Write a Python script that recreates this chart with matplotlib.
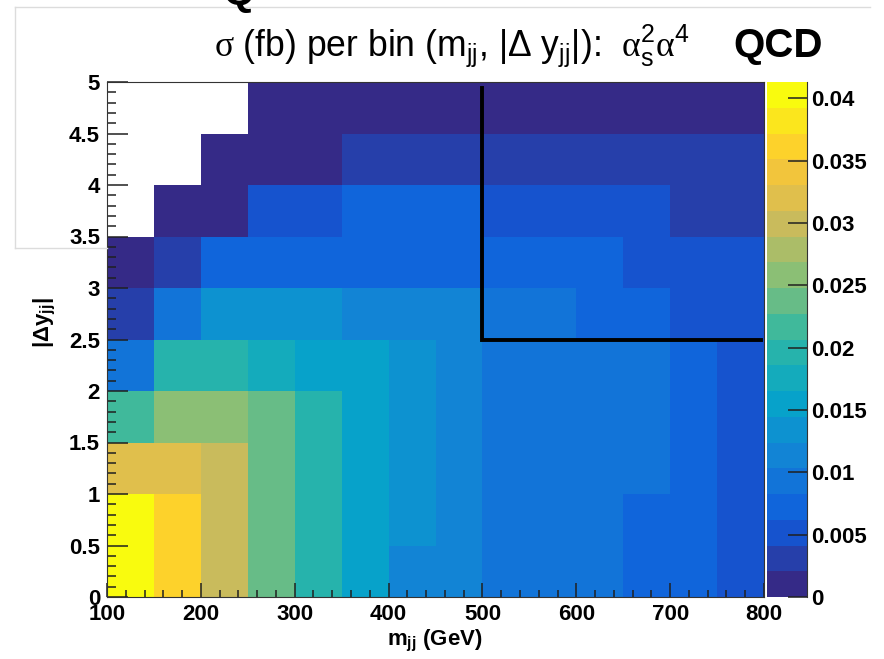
#!/usr/bin/env python3

import numpy as np
import matplotlib
matplotlib.use("Agg")
from matplotlib import pyplot as plt
from matplotlib.colors import LinearSegmentedColormap, ListedColormap, BoundaryNorm
from matplotlib.ticker import MultipleLocator
from matplotlib.lines import Line2D

plt.rcParams["font.family"] = ["Liberation Sans", "DejaVu Sans"]
plt.rcParams["mathtext.fontset"] = "custom"
plt.rcParams["mathtext.rm"] = "Liberation Sans"
plt.rcParams["mathtext.bf"] = "Liberation Sans:bold"
plt.rcParams["mathtext.sf"] = "Liberation Serif"
plt.rcParams["mathtext.it"] = "Liberation Sans:italic"

# bin edges
mjj_edges = [100, 150, 200, 250, 300, 350, 400, 450, 500, 550, 600, 650, 700, 750, 800]
dy_edges = [0.0, 0.5, 1.0, 1.5, 2.0, 2.5, 3.0, 3.5, 4.0, 4.5, 5.0]

# sigma (fb) per bin, one row per |dy| bin starting at 0-0.5; nan = empty bin
nan = np.nan
sigma_fb = [
    [0.0413, 0.0362, 0.0301, 0.0239, 0.0197, 0.0156, 0.0115, 0.0113, 0.0094, 0.0092, 0.0090, 0.0073, 0.0071, 0.0052],
    [0.0405, 0.0364, 0.0299, 0.0240, 0.0198, 0.0157, 0.0135, 0.0116, 0.0095, 0.0093, 0.0091, 0.0074, 0.0072, 0.0053],
    [0.0322, 0.0324, 0.0297, 0.0236, 0.0195, 0.0154, 0.0133, 0.0114, 0.0094, 0.0092, 0.0090, 0.0089, 0.0072, 0.0051],
    [0.0215, 0.0262, 0.0259, 0.0233, 0.0194, 0.0153, 0.0132, 0.0112, 0.0093, 0.0091, 0.0089, 0.0088, 0.0071, 0.0050],
    [0.0092, 0.0198, 0.0195, 0.0175, 0.0156, 0.0152, 0.0131, 0.0111, 0.0093, 0.0090, 0.0088, 0.0087, 0.0070, 0.0049],
    [0.0032, 0.0093, 0.0128, 0.0130, 0.0127, 0.0113, 0.0110, 0.0109, 0.0091, 0.0086, 0.0070, 0.0068, 0.0048, 0.0046],
    [0.0011, 0.0030, 0.0074, 0.0075, 0.0073, 0.0072, 0.0071, 0.0070, 0.0069, 0.0066, 0.0064, 0.0047, 0.0045, 0.0043],
    [nan,    0.0012, 0.0013, 0.0050, 0.0049, 0.0068, 0.0067, 0.0065, 0.0047, 0.0046, 0.0045, 0.0044, 0.0029, 0.0027],
    [nan,    nan,    0.0010, 0.0014, 0.0015, 0.0028, 0.0029, 0.0030, 0.0031, 0.0030, 0.0029, 0.0028, 0.0027, 0.0026],
    [nan,    nan,    nan,    0.0008, 0.0009, 0.0010, 0.0011, 0.0012, 0.0012, 0.0013, 0.0013, 0.0012, 0.0011, 0.0010],
]

x_ticks = [100, 200, 300, 400, 500, 600, 700, 800]
x_tick_labels = ["100", "200", "300", "400", "500", "600", "700", "800"]
y_ticks = [0, 0.5, 1, 1.5, 2, 2.5, 3, 3.5, 4, 4.5, 5]
y_tick_labels = ["0", "0.5", "1", "1.5", "2", "2.5", "3", "3.5", "4", "4.5", "5"]
z_ticks = [0, 0.005, 0.01, 0.015, 0.02, 0.025, 0.03, 0.035, 0.04]
z_tick_labels = ["0", "0.005", "0.01", "0.015", "0.02", "0.025", "0.03", "0.035", "0.04"]

# signal-region corner: m_jj > 500, |dy| > 2.5
cut_x = [500, 500, 797]
cut_y = [4.94, 2.5, 2.5]

# ROOT kBird palette with 20 contour levels
bird_stops = [0.0, 0.125, 0.25, 0.375, 0.5, 0.625, 0.75, 0.875, 1.0]
bird_r = [0.2082, 0.0592, 0.0780, 0.0232, 0.1802, 0.5301, 0.8186, 0.9956, 0.9764]
bird_g = [0.1664, 0.3599, 0.5041, 0.6419, 0.7178, 0.7492, 0.7328, 0.7862, 0.9832]
bird_b = [0.5293, 0.8684, 0.8385, 0.7914, 0.6425, 0.4662, 0.3499, 0.1968, 0.0539]
n_contours = 20

bird = LinearSegmentedColormap.from_list(
    "bird", list(zip(bird_stops, zip(bird_r, bird_g, bird_b))))
level_colors = bird(np.linspace(0, 1, n_contours))
cmap = ListedColormap(level_colors)
cmap.set_bad("white")
cmap.set_over(level_colors[-1])

z = np.ma.masked_invalid(np.array(sigma_fb, dtype=float))
zmax = float(z.max())
norm = BoundaryNorm(np.linspace(0, zmax, n_contours + 1), n_contours)

W, H = 884, 659
fig = plt.figure(figsize=(W / 100, H / 100), dpi=100)
fig.patch.set_facecolor("white")

ax = fig.add_axes([107 / W, 62 / H, 657 / W, 515 / H])
mesh = ax.pcolormesh(mjj_edges, dy_edges, z, cmap=cmap, norm=norm)
ax.set_xlim(mjj_edges[0], mjj_edges[-1])
ax.set_ylim(dy_edges[0], dy_edges[-1])

ax.plot(cut_x, cut_y, color="black", lw=2.8, solid_joinstyle="miter", zorder=3)

ax.set_xticks(x_ticks)
ax.set_xticklabels(x_tick_labels, fontweight="bold", fontsize=16)
ax.set_yticks(y_ticks)
ax.set_yticklabels(y_tick_labels, fontweight="bold", fontsize=16)
ax.xaxis.set_minor_locator(MultipleLocator(20))
ax.yaxis.set_minor_locator(MultipleLocator(0.1))

ax.tick_params(which="both", direction="in", top=False, right=False,
               color="#202020", width=1.1)
ax.tick_params(axis="x", which="major", length=10, pad=5)
ax.tick_params(axis="x", which="minor", length=5)
ax.tick_params(axis="y", which="major", length=15, pad=5)
ax.tick_params(axis="y", which="minor", length=6.5)
for side in ax.spines.values():
    side.set_linewidth(0.8)
    side.set_color("#333333")

# palette axis
cax = fig.add_axes([767 / W, 62 / H, 40 / W, 515 / H])
cb = fig.colorbar(mesh, cax=cax, spacing="proportional", ticks=z_ticks)
cb.ax.set_yticklabels(z_tick_labels, fontweight="bold", fontsize=16)
cb.outline.set_visible(False)
cb.ax.minorticks_off()
cb.ax.tick_params(direction="in", length=14, width=1.1, color="#202020", pad=3)
cb.ax.plot([1, 1], [0, 1], transform=cb.ax.transAxes, color="#333333",
           lw=0.8, clip_on=False)

# axis titles
fig.text(435 / W, 1 - 645 / H, r"$\mathbf{m_{jj}}$ (GeV)", ha="center",
         va="baseline", fontsize=16, fontweight="bold")
fig.text(45 / W, 1 - 323 / H, r"$\mathbf{|Δy_{jj}|}$", rotation=90,
         ha="center", va="center", fontsize=16)

# title
fig.text(214 / W, 1 - 56 / H,
         r"$\mathsf{σ}$ (fb) per bin (m$_{\mathrm{jj}}$, |Δ y$_{\mathrm{jj}}$|):  "
         r"$\mathsf{α}_{\mathrm{s}}^{2}\mathsf{α}^{4}$",
         ha="left", va="baseline", fontsize=25.6)
fig.text(733 / W, 1 - 57 / H, "QCD", ha="left", va="baseline",
         fontsize=29, fontweight="bold")

# slide frame around the plot and the clipped header letter
frame = "#dcdcdc"
fig.add_artist(Line2D([15 / W, 15 / W], [1 - 7 / H, 1 - 248 / H], color=frame, lw=1))
fig.add_artist(Line2D([15 / W, 870 / W], [1 - 7 / H, 1 - 7 / H], color=frame, lw=1))
fig.add_artist(Line2D([15 / W, 107 / W], [1 - 248 / H, 1 - 248 / H], color=frame, lw=1))
fig.text(238 / W, 1 - 4 / H, "Q", ha="center", va="baseline", fontsize=30,
         fontweight="bold")

fig.savefig("out.png", dpi=100)
